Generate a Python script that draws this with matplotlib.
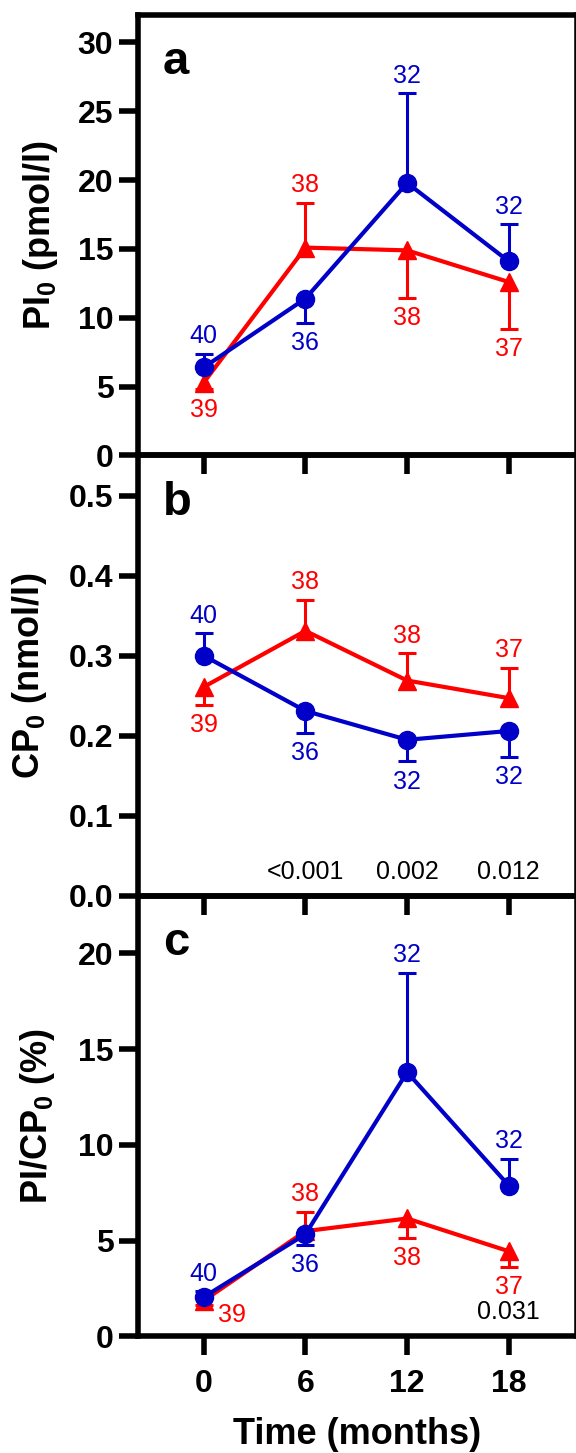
import matplotlib.pyplot as plt
import numpy as np

plt.rcParams['font.family'] = ['Liberation Sans', 'DejaVu Sans']
plt.rcParams['mathtext.fontset'] = 'custom'
plt.rcParams['mathtext.rm'] = 'Liberation Sans'
plt.rcParams['mathtext.bf'] = 'Liberation Sans:bold'

months = [0, 6, 12, 18]

# panel a: PI0 (pmol/l); signed error = direction of the drawn SEM bar
pi_blue = [6.4, 11.4, 19.8, 14.1]
pi_blue_err = [1.0, -1.75, 6.5, 2.7]
pi_red = [5.3, 15.1, 14.9, 12.6]
pi_red_err = [-0.5, 3.25, -3.45, -3.4]

# panel b: CP0 (nmol/l)
cp_blue = [0.300, 0.231, 0.195, 0.206]
cp_blue_err = [0.028, -0.027, -0.027, -0.032]
cp_red = [0.261, 0.331, 0.269, 0.247]
cp_red_err = [-0.022, 0.039, 0.034, 0.038]

# panel c: PI/CP0 (%)
pc_blue = [2.06, 5.34, 13.8, 7.88]
pc_blue_err = [0.3, -0.55, 5.2, 1.4]
pc_red = [1.87, 5.5, 6.16, 4.45]
pc_red_err = [-0.25, 1.0, -1.0, -0.82]

n_blue_a = [40, 36, 32, 32]
n_red_a = [39, 38, 38, 37]
n_blue_b = [40, 36, 32, 32]
n_red_b = [39, 38, 38, 37]
n_blue_c = [40, 36, 32, 32]
n_red_c = [39, 38, 38, 37]

p_b = ['', '<0.001', '0.002', '0.012']
p_c = ['', '', '', '0.031']

BLUE = '#0000C8'
RED = '#FF0000'

fig = plt.figure(figsize=(5.76, 14.53), dpi=100)
gs = fig.add_gridspec(3, 1, left=0.239, right=1.001, top=0.9897,
                      bottom=0.0802, hspace=0)
axes = [fig.add_subplot(gs[i]) for i in range(3)]

panels = [
    ('a', pi_blue, pi_blue_err, n_blue_a, pi_red, pi_red_err, n_red_a, None,
     (0, 32), np.arange(0, 31, 5), 'PI$_\\mathbf{0}$ (pmol/l)', -0.2225, '%d'),
    ('b', cp_blue, cp_blue_err, n_blue_b, cp_red, cp_red_err, n_red_b, p_b,
     (0, 0.55), np.arange(0, 0.51, 0.1), 'CP$_\\mathbf{0}$ (nmol/l)', -0.2456, '%.1f'),
    ('c', pc_blue, pc_blue_err, n_blue_c, pc_red, pc_red_err, n_red_c, p_c,
     (0, 23), np.arange(0, 21, 5), 'PI/CP$_\\mathbf{0}$ (%)', -0.2287, '%d'),
]

for ax, (letter, yb, eb, nb, yr, er, nr, pv, ylim, yt, ylab, labx, fmt) in zip(axes, panels):
    ax.patch.set_visible(False)
    for color, y, e, n, marker, ms, z in [(RED, yr, er, nr, '^', 13, 2),
                                          (BLUE, yb, eb, nb, 'o', 13, 3)]:
        y = np.array(y)
        ends = y + np.array(e)
        ax.vlines(months, y, ends, color=color, lw=2.2, zorder=z)
        ax.plot(months, ends, ls='none', marker='_', ms=13, mew=2.2,
                color=color, zorder=z)
        ax.plot(months, y, color=color, lw=3, marker=marker, ms=ms,
                zorder=z + 0.5)
        for i, (xm, ye, ev, lab) in enumerate(zip(months, ends, e, n)):
            if letter == 'c' and color == RED and i == 0:
                ax.annotate(str(lab), (xm, ye), xytext=(20, -7),
                            textcoords='offset points', ha='center',
                            va='center', color=color, fontsize=18)
            elif ev > 0:
                ax.annotate(str(lab), (xm, ye), xytext=(0, 4),
                            textcoords='offset points', ha='center',
                            va='bottom', color=color, fontsize=18)
            else:
                ax.annotate(str(lab), (xm, ye), xytext=(0, -6),
                            textcoords='offset points', ha='center',
                            va='top', color=color, fontsize=18)
    if pv is not None:
        for xm, t in zip(months, pv):
            if t:
                ax.text(xm, 0.0555, t, transform=ax.get_xaxis_transform(),
                        ha='center', va='center', fontsize=18, color='black')
    ax.text(0.058, 0.865, letter, transform=ax.transAxes, fontsize=34,
            fontweight='bold', va='baseline', ha='left')
    ax.set_xlim(-3.9, 22)
    ax.set_ylim(*ylim)
    ax.set_yticks(yt)
    ax.set_yticklabels([fmt % v for v in yt])
    ax.set_xticks(months)
    ax.set_ylabel(ylab, fontsize=26, fontweight='bold')
    ax.yaxis.set_label_coords(labx, 0.5)
    ax.yaxis.label.set_va('center')
    for s in ax.spines.values():
        s.set_linewidth(4)
    ax.tick_params(axis='both', direction='out', length=13.5, width=4,
                   labelsize=23)
    ax.tick_params(axis='y', pad=4)
    ax.tick_params(axis='x', pad=10)
    for lbl in ax.get_yticklabels() + ax.get_xticklabels():
        lbl.set_fontweight('bold')
    if letter != 'c':
        ax.tick_params(axis='x', labelbottom=False)

fig.text(357 / 576, 1 - 1435 / 1453, 'Time (months)', ha='center', va='center',
         fontsize=26, fontweight='bold')

fig.savefig('out.png', dpi=100)
